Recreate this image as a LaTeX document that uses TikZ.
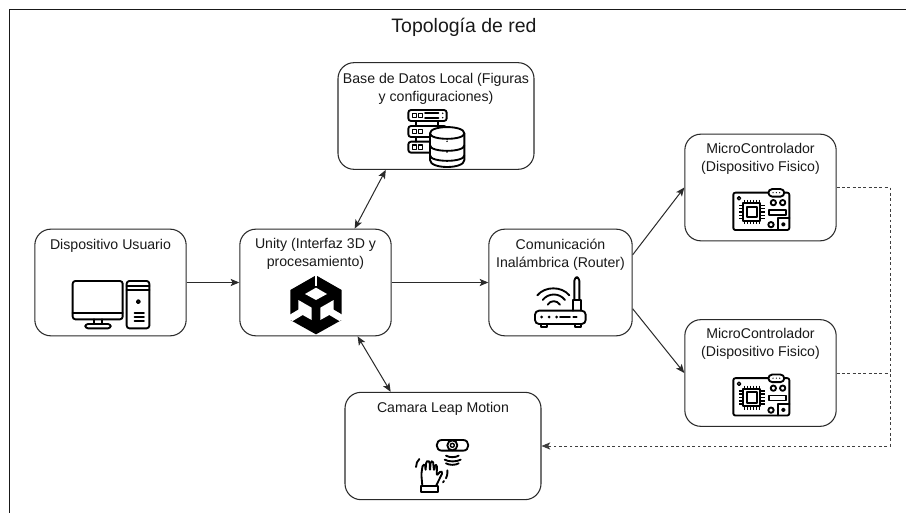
\documentclass[tikz,border=0pt]{standalone}
\usepackage{fontspec}
\setmainfont{Liberation Sans}
\usetikzlibrary{arrows.meta}
\definecolor{edge}{HTML}{2A2A2A}
\tikzset{
  box/.style={draw=edge,line width=0.8pt,rounded corners=12pt,fill=white,inner sep=0pt,anchor=center},
  lbl/.style={align=center,inner sep=0pt,text=black!90,font=\fontsize{10.6}{13.5}\selectfont},
  conn/.style={draw=edge,line width=0.75pt,-{Stealth[length=6.5pt,width=5.4pt,inset=1.5pt]}},
  biconn/.style={draw=edge,line width=0.75pt,{Stealth[length=6.5pt,width=5.4pt,inset=1.5pt]}-{Stealth[length=6.5pt,width=5.4pt,inset=1.5pt]}},
  dash line/.style={draw=edge!90,line width=0.7pt,dash pattern=on 2.2pt off 1.8pt},
  icon/.style={draw=black,line width=1.4pt,fill=none,line join=round,line cap=round},
  thin icon/.style={icon,line width=1.05pt},
  zoomed/.style={x=0.25pt,y=-0.25pt},
}
\newcommand{\microicon}{%
  \draw[icon,fill=white,rounded corners=1.5pt] (160,188) rectangle (328,300);
  \draw[icon,fill=white,rounded corners=3pt] (265,177) rectangle (313,200);
  \fill (279,188) circle (2) (289,188) circle (2) (299,188) circle (2);
  \draw[thin icon] (177,205) circle (5);
  \draw[icon] (190,220) rectangle (240,272);
  \draw[icon] (200,230) rectangle (230,262);
  \foreach \p in {194,203,212,221,230,238}{\draw[thin icon,line cap=butt] (\p,210)--(\p,220) (\p,272)--(\p,282);}
  \foreach \p in {226,235,246,256,266}{\draw[thin icon,line cap=butt] (177,\p)--(190,\p) (240,\p)--(256,\p);}
  \draw[icon] (280,218) circle (8) (308,218) circle (8) (273,284) circle (8);
  \draw[icon] (268,240) rectangle (317,255);
  \draw[icon] (295,300) -- (295,265) -- (328,265);
  \draw[icon] (310,283) circle (4);
}
\begin{document}
\begin{tikzpicture}[x=0.75pt,y=-0.75pt]
\path[use as bounding box,fill=white] (0,0) rectangle (906,513);
\draw[black!90,line width=0.85pt] (9.5,513) -- (9.5,9.5) -- (906,9.5);
\node[lbl,font=\fontsize{14.6}{17}\selectfont] (title) at (464,27.5) {Topología de red};

\node[box,minimum width=147pt,minimum height=80pt] (base) at (436,116) {};
\node[box,minimum width=113.5pt,minimum height=80pt] (user) at (110.5,282.5) {};
\node[box,minimum width=113.5pt,minimum height=80pt] (unity) at (315.5,282.5) {};
\node[box,minimum width=107.5pt,minimum height=80pt] (router) at (560.5,282.5) {};
\node[box,minimum width=113.5pt,minimum height=80pt] (mc1) at (760.5,187.5) {};
\node[box,minimum width=113.5pt,minimum height=80pt] (mc2) at (760.5,373) {};
\node[box,minimum width=147pt,minimum height=80.5pt] (cam) at (443,446) {};

\node[lbl] (baset) at (436,88.5) {Base de Datos Local (Figuras\\y configuraciones)};
\node[lbl] (usert) at (110.5,245.5) {Dispositivo Usuario};
\node[lbl] (unityt) at (315.5,254) {Unity (Interfaz 3D y\\procesamiento)};
\node[lbl] (routert) at (560.5,254.5) {Comunicación\\Inalámbrica (Router)};
\node[lbl] (mc1t) at (760.5,159) {MicroControlador\\(Dispositivo Fisico)};
\node[lbl] (mc2t) at (760.5,344) {MicroControlador\\(Dispositivo Fisico)};
\node[lbl] (camt) at (443,408.5) {Camara Leap Motion};

\coordinate (bustop) at (890,187.5);
\coordinate (busmid) at (890,373);
\coordinate (busbot) at (890,446);

\draw[conn] (user.east) -- (unity.west);
\draw[conn] (unity.east) -- (router.west);
\draw[conn] (router.21) -- (mc1.west);
\draw[conn] (router.-20) -- (mc2.west);
\draw[biconn] (unity.54.3) -- (base.227.8);
\draw[biconn] (unity.-52.9) -- (cam.134.5);
\draw[dash line] (mc2.east) -- (busmid);
\draw[dash line,-{Stealth[length=6.5pt,width=5.4pt,inset=1.5pt]}] (mc1.east) -- (bustop) -- (busbot) -- (cam.east);

% database icon
\begin{scope}[shift={(330,50)},zoomed]
  \foreach \a in {180,228,275}{
    \draw[icon,rounded corners=2pt] (235,\a) rectangle (350,\a+33);
    \draw[thin icon] (247,\a+10) rectangle (259,\a+23) (265,\a+10) rectangle (277,\a+23);
  }
  \draw[icon] (285,190) -- (325,190) (285,203) -- (325,203);
  \fill (338,190) circle (2.5) (338,203) circle (2.5);
  \draw[icon] (258,213) -- (258,228) (325,213) -- (325,228) (258,262) -- (258,275);
  \draw[icon,fill=white] (300,250) .. controls (300,225) and (403,225) .. (403,250)
     -- (403,330) .. controls (403,358) and (300,358) .. (300,330) -- cycle;
  \draw[icon] (300,250) .. controls (300,272) and (403,272) .. (403,250);
  \draw[icon] (300,286) .. controls (300,308) and (403,308) .. (403,286);
  \draw[icon] (300,316) .. controls (300,338) and (403,338) .. (403,316);
  \fill (351,274) circle (2.5) (351,306) circle (2.5) (351,334) circle (2.5);
\end{scope}

% computer icon
\begin{scope}[shift={(20,220)},zoomed]
  \draw[icon,rounded corners=2pt] (158,183) rectangle (308,298);
  \draw[icon] (158,278) -- (308,278);
  \draw[icon] (222,298) -- (222,312) (245,298) -- (245,312);
  \draw[icon,rounded corners=2pt] (196,325) -- (196,312) -- (272,312) -- (272,325) -- cycle;
  \draw[icon,rounded corners=2pt] (320,183) rectangle (388,325);
  \draw[icon] (320,197) -- (388,197) (320,210) -- (388,210);
  \draw[icon] (355,245) circle (5);
  \draw[icon] (344,280) -- (372,280) (344,292) -- (372,292) (344,303) -- (372,303);
\end{scope}

% unity logo
\begin{scope}[shift={(230,220)},zoomed]
  \fill[black] (258,166) -- (335,210) -- (335,300) -- (258,343) -- (181,300) -- (181,210) -- cycle;
  \fill[white] (254,160) -- (262,160) -- (262,198) -- (254,198) -- cycle;
  \fill[white] (258,203) -- (291,222) -- (258,240) -- (225,222) -- cycle;
  \fill[white] (205,240) -- (245,263) -- (245,300) -- (218,285) -- (188,303) -- (176,298) -- (176,286) -- (205,269) -- cycle;
  \fill[white] (311,240) -- (271,263) -- (271,300) -- (298,285) -- (328,303) -- (340,298) -- (340,286) -- (311,269) -- cycle;
\end{scope}

% router icon
\begin{scope}[shift={(480,220)},zoomed]
  \draw[icon,rounded corners=3pt] (165,272) rectangle (317,312);
  \draw[icon] (182,312) -- (182,322) -- (200,322) -- (200,312);
  \draw[icon] (285,312) -- (285,322) -- (303,322) -- (303,312);
  \draw[icon,rounded corners=2.5pt] (283,240) -- (283,172) -- (298,172) -- (298,240);
  \draw[icon] (280,272) -- (280,240) -- (302,240) -- (302,272);
  \fill (185,291) circle (4.5) (207,291) circle (4.5) (230,291) circle (4.5);
  \draw[icon] (240,291) -- (270,291) (280,291) -- (290,291);
  \draw[icon] (172,226) .. controls (195,198) and (245,198) .. (268,226);
  \draw[icon] (188,240) .. controls (205,218) and (238,218) .. (255,240);
  \draw[icon] (203,254) .. controls (212,240) and (230,240) .. (240,254);
\end{scope}

% microcontroller icons
\begin{scope}[shift={(680,130)},zoomed]\microicon\end{scope}
\begin{scope}[shift={(680,315.5)},zoomed]\microicon\end{scope}

% camera and hand icon
\begin{scope}[shift={(340,385)},zoomed]
  \draw[icon] (306,165) -- (369,165) .. controls (379,165) and (385,172) .. (385,181) .. controls (385,190) and (379,197) .. (369,197) -- (306,197) .. controls (296,197) and (290,190) .. (290,181) .. controls (290,172) and (296,165) .. (306,165) -- cycle;
  \draw[icon,fill=white] (337,181) circle (15);
  \draw[thin icon] (337,181) circle (6);
  \draw[icon] (318,212) .. controls (328,218) and (346,218) .. (356,212);
  \draw[icon] (314,224) .. controls (326,231) and (350,231) .. (362,224);
  \draw[icon] (318,235) .. controls (328,241) and (346,241) .. (356,235);
  \draw[icon,rounded corners=1pt] (247,303) -- (244,268) -- (248,240) -- (255,238) -- (257,258) -- (258,232) -- (265,226) -- (269,232) -- (270,258) -- (272,230) -- (279,228) -- (282,258) -- (285,240) -- (291,240) -- (290,272) -- (302,258) -- (308,262) -- (288,303);
  \draw[icon] (242,303) rectangle (293,322);
  \draw[icon] (228,246) .. controls (228,236) and (232,228) .. (238,222);
  \draw[icon] (322,256) .. controls (323,268) and (320,276) .. (318,280);
  \draw[icon] (312,288) -- (309,292);
\end{scope}
\end{tikzpicture}
\end{document}
